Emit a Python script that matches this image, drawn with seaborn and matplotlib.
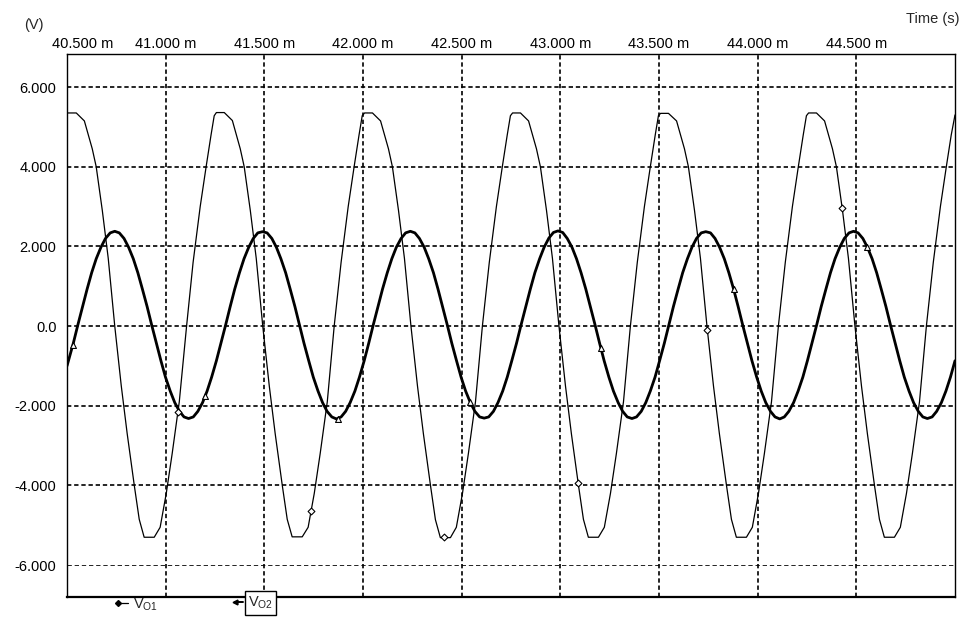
import matplotlib
matplotlib.use('Agg')
import matplotlib.pyplot as plt
import matplotlib.transforms as mtransforms
from matplotlib.lines import Line2D
import seaborn as sns

# Time axis in ms, voltages in V
x_ticks = [40.5, 41.0, 41.5, 42.0, 42.5, 43.0, 43.5, 44.0, 44.5]
x_labels = ['40.500 m', '41.000 m', '41.500 m', '42.000 m', '42.500 m',
            '43.000 m', '43.500 m', '44.000 m', '44.500 m']
y_ticks = [-6, -4, -2, 0, 2, 4, 6]
y_labels = ['-6.000', '-4.000', '-2.000', '0.0', '2.000', '4.000', '6.000']

# Vo1 - thin trace
vo1_t = [
    40.500, 40.547, 40.588, 40.628, 40.648, 40.679, 40.709, 40.742, 40.775, 40.805, 40.841, 40.866,
    40.891, 40.942, 40.972, 41.003, 41.033, 41.069, 41.106, 41.139, 41.175, 41.205, 41.230, 41.246,
    41.257, 41.297, 41.338, 41.378, 41.398, 41.429, 41.459, 41.492, 41.525, 41.555, 41.591, 41.616,
    41.641, 41.692, 41.722, 41.753, 41.783, 41.819, 41.854, 41.889, 41.925, 41.955, 41.980, 41.996,
    42.008, 42.048, 42.089, 42.129, 42.149, 42.180, 42.210, 42.243, 42.276, 42.306, 42.342, 42.367,
    42.392, 42.443, 42.473, 42.504, 42.534, 42.570, 42.605, 42.640, 42.676, 42.706, 42.731, 42.747,
    42.758, 42.798, 42.839, 42.879, 42.899, 42.930, 42.960, 42.993, 43.026, 43.056, 43.092, 43.117,
    43.142, 43.193, 43.223, 43.254, 43.284, 43.320, 43.355, 43.390, 43.426, 43.456, 43.481, 43.497,
    43.508, 43.548, 43.589, 43.629, 43.649, 43.680, 43.710, 43.743, 43.776, 43.806, 43.842, 43.867,
    43.892, 43.943, 43.973, 44.004, 44.034, 44.070, 44.105, 44.140, 44.176, 44.206, 44.231, 44.247,
    44.258, 44.298, 44.339, 44.379, 44.399, 44.430, 44.460, 44.493, 44.526, 44.556, 44.592, 44.617,
    44.642, 44.693, 44.723, 44.754, 44.784, 44.820, 44.855, 44.890, 44.926, 44.956, 44.981, 45.000,
]
vo1_v = [
    5.35, 5.35, 5.15, 4.45, 4.00, 2.90, 1.70, 0.00, -1.50, -2.70, -4.00, -4.85,
    -5.30, -5.30, -5.05, -4.20, -3.20, -1.90, 0.00, 1.60, 3.00, 4.00, 4.80, 5.28,
    5.36, 5.36, 5.16, 4.45, 4.00, 2.90, 1.70, 0.00, -1.50, -2.70, -4.00, -4.85,
    -5.29, -5.29, -5.05, -4.20, -3.20, -1.90, 0.00, 1.60, 3.00, 4.00, 4.80, 5.28,
    5.35, 5.35, 5.15, 4.45, 4.00, 2.90, 1.70, 0.00, -1.50, -2.70, -4.00, -4.86,
    -5.31, -5.31, -5.05, -4.20, -3.20, -1.90, 0.00, 1.60, 3.00, 4.00, 4.80, 5.28,
    5.35, 5.35, 5.15, 4.45, 4.00, 2.90, 1.70, 0.00, -1.50, -2.70, -4.00, -4.85,
    -5.30, -5.30, -5.05, -4.20, -3.20, -1.90, 0.00, 1.60, 3.00, 4.00, 4.80, 5.28,
    5.34, 5.34, 5.15, 4.45, 4.00, 2.90, 1.70, 0.00, -1.50, -2.70, -4.00, -4.85,
    -5.30, -5.30, -5.05, -4.20, -3.20, -1.90, 0.00, 1.60, 3.00, 4.00, 4.80, 5.28,
    5.35, 5.35, 5.15, 4.45, 4.00, 2.90, 1.70, 0.00, -1.50, -2.70, -4.00, -4.85,
    -5.30, -5.30, -5.05, -4.20, -3.20, -1.90, 0.00, 1.60, 3.00, 4.00, 4.80, 5.30,
]

# Vo2 - thick trace
vo2_t = [
    40.500, 40.532, 40.555, 40.579, 40.602, 40.625, 40.648, 40.672, 40.695, 40.719,
    40.742, 40.765, 40.789, 40.812, 40.836, 40.859, 40.882, 40.906, 40.929, 40.953, 40.976, 40.999,
    41.023, 41.046, 41.070, 41.093, 41.116, 41.140, 41.163, 41.187, 41.210, 41.233, 41.257, 41.280,
    41.304, 41.327, 41.350, 41.374, 41.397, 41.421, 41.444, 41.467,
    41.491, 41.514, 41.538, 41.561, 41.584, 41.608, 41.631, 41.655, 41.678, 41.701, 41.725, 41.748,
    41.772, 41.795, 41.818, 41.842, 41.865, 41.889, 41.912, 41.935, 41.959, 41.982, 42.006, 42.029,
    42.052, 42.076, 42.099, 42.123, 42.146, 42.169, 42.193, 42.216,
    42.240, 42.263, 42.286, 42.310, 42.333, 42.357, 42.380, 42.403, 42.427, 42.450, 42.474, 42.497,
    42.520, 42.544, 42.567, 42.591, 42.614, 42.637, 42.661, 42.684, 42.708, 42.731, 42.754, 42.778,
    42.801, 42.825, 42.848, 42.871, 42.895, 42.918, 42.942, 42.965,
    42.988, 43.012, 43.035, 43.059, 43.082, 43.105, 43.129, 43.152, 43.176, 43.199, 43.222, 43.246,
    43.269, 43.293, 43.316, 43.339, 43.363, 43.386, 43.410, 43.433, 43.456, 43.480, 43.503, 43.527,
    43.550, 43.573, 43.597, 43.620, 43.644, 43.667, 43.690, 43.714,
    43.737, 43.761, 43.784, 43.807, 43.831, 43.854, 43.878, 43.901, 43.924, 43.948, 43.971, 43.995,
    44.018, 44.041, 44.065, 44.088, 44.112, 44.135, 44.158, 44.182, 44.205, 44.229, 44.252, 44.275,
    44.299, 44.322, 44.346, 44.369, 44.392, 44.416, 44.439, 44.463,
    44.486, 44.509, 44.533, 44.556, 44.580, 44.603, 44.626, 44.650, 44.673, 44.697, 44.720, 44.743,
    44.767, 44.790, 44.814, 44.837, 44.860, 44.884, 44.907, 44.931, 44.954, 44.977, 45.000,
]
vo2_v = [
    -1.00, -0.43, 0.03, 0.49, 0.93, 1.34, 1.69, 1.98, 2.20, 2.34,
    2.38, 2.34, 2.20, 1.98, 1.69, 1.34, 0.93, 0.49, 0.03, -0.43, -0.87, -1.28,
    -1.63, -1.92, -2.14, -2.28, -2.32, -2.28, -2.14, -1.92, -1.63, -1.28, -0.87, -0.43,
    0.03, 0.49, 0.93, 1.34, 1.69, 1.98, 2.20, 2.34,
    2.37, 2.34, 2.20, 1.98, 1.69, 1.34, 0.93, 0.49, 0.03, -0.43, -0.87, -1.28,
    -1.63, -1.92, -2.14, -2.28, -2.33, -2.28, -2.14, -1.92, -1.63, -1.28, -0.87, -0.43,
    0.03, 0.49, 0.93, 1.34, 1.69, 1.98, 2.20, 2.34,
    2.38, 2.34, 2.20, 1.98, 1.69, 1.34, 0.93, 0.49, 0.03, -0.43, -0.87, -1.28,
    -1.63, -1.92, -2.14, -2.28, -2.31, -2.28, -2.14, -1.92, -1.63, -1.28, -0.87, -0.43,
    0.03, 0.49, 0.93, 1.34, 1.69, 1.98, 2.21, 2.35,
    2.39, 2.35, 2.20, 1.98, 1.69, 1.34, 0.93, 0.49, 0.03, -0.43, -0.87, -1.28,
    -1.63, -1.92, -2.14, -2.28, -2.32, -2.28, -2.14, -1.92, -1.63, -1.28, -0.87, -0.43,
    0.03, 0.49, 0.93, 1.34, 1.69, 1.98, 2.20, 2.34,
    2.37, 2.34, 2.20, 1.98, 1.69, 1.34, 0.93, 0.49, 0.03, -0.43, -0.87, -1.28,
    -1.63, -1.92, -2.14, -2.28, -2.33, -2.28, -2.14, -1.92, -1.63, -1.28, -0.87, -0.43,
    0.03, 0.49, 0.93, 1.34, 1.69, 1.98, 2.20, 2.34,
    2.38, 2.34, 2.20, 1.98, 1.69, 1.34, 0.93, 0.49, 0.03, -0.43, -0.87, -1.28,
    -1.63, -1.92, -2.14, -2.28, -2.32, -2.28, -2.14, -1.92, -1.63, -1.28, -0.87,
]

# trace symbols PSpice drops along each curve
vo1_mark_t = [41.062, 41.737, 42.412, 43.088, 43.745, 44.428]
vo1_mark_v = [-2.15, -4.64, -5.30, -3.93, -0.10, 2.97]
vo2_mark_t = [40.530, 41.201, 41.872, 42.544, 43.205, 43.878, 44.552]
vo2_mark_v = [-0.48, -1.76, -2.32, -1.90, -0.55, 0.93, 1.99]

sns.set_style('white')
plt.rcParams['font.family'] = ['Liberation Sans', 'DejaVu Sans']
plt.rcParams['mathtext.fontset'] = 'custom'
plt.rcParams['mathtext.rm'] = 'Liberation Sans'

W, H = 962, 621
fig = plt.figure(figsize=(W / 100, H / 100), dpi=100)
ax = fig.add_axes([67 / W, 1 - 597 / H, 888 / W, 543 / H])

sns.lineplot(x=vo1_t, y=vo1_v, ax=ax, color='black', linewidth=0.9,
             estimator=None, sort=False)
sns.lineplot(x=vo2_t, y=vo2_v, ax=ax, color='black', linewidth=2.0,
             estimator=None, sort=False)
sns.scatterplot(x=vo1_mark_t, y=vo1_mark_v, ax=ax, marker='D', s=12,
                color='white', edgecolor='black', linewidth=0.8, zorder=5)
sns.scatterplot(x=vo2_mark_t, y=vo2_mark_v, ax=ax, marker='^', s=18,
                color='white', edgecolor='black', linewidth=0.8, zorder=5)

ax.set_xlim(40.5, 45.0)
ax.set_ylim(-6.8, 6.83)
ax.set_xticks(x_ticks)
ax.set_xticklabels(x_labels)
ax.set_yticks(y_ticks)
ax.set_yticklabels(y_labels)
ax.xaxis.tick_top()
ax.tick_params(axis='x', length=0, labelsize=10.5, pad=2.5, colors='black')
ax.tick_params(axis='y', length=0, labelsize=10.5, pad=7.5, colors='black')
ax.set_xlabel('')
ax.set_ylabel('')

ax.grid(True, color='black', linestyle=(0, (2.6, 1.7)), linewidth=1.2)
# the -6 V line is drawn fainter in the original
low = ax.yaxis.get_gridlines()[0]
low.set_linewidth(0.6)
low.set_linestyle((0, (5.2, 3.4)))

for side in ['left', 'top', 'right']:
    ax.spines[side].set_color('black')
    ax.spines[side].set_linewidth(1.0)
ax.spines['bottom'].set_color('black')
ax.spines['bottom'].set_linewidth(1.6)

# first time label sits a bit to the right of the axis start
first = ax.get_xticklabels()[0]
first.set_transform(first.get_transform() +
                    mtransforms.ScaledTranslation(16 / 100, 0, fig.dpi_scale_trans))

fig.text(34 / W, 1 - 25 / H, '(V)', ha='center', va='center', fontsize=10.5)
fig.text(960 / W, 1 - 19 / H, 'Time (s)', ha='right', va='center', fontsize=10.5)

# trace legend under the plot
fig.add_artist(Line2D([118 / W, 128 / W], [1 - 603 / H, 1 - 603 / H], color='black',
                      linewidth=0.9, marker='D', markersize=3, markevery=[0],
                      transform=fig.transFigure))
fig.text(133 / W, 1 - 605 / H, r'V$_{\rm O1}$', ha='left', va='center', fontsize=10.5)
fig.add_artist(Line2D([235 / W, 243 / W], [1 - 602 / H, 1 - 602 / H], color='black',
                      linewidth=1.4, marker='<', markersize=3.5, markevery=[0],
                      transform=fig.transFigure))
fig.text(248 / W, 1 - 603 / H, r'V$_{\rm O2}$', ha='left', va='center', fontsize=10.5,
         bbox=dict(boxstyle='square,pad=0.22', fc='white', ec='black', lw=1.0))

fig.savefig('out.png', dpi=100)
